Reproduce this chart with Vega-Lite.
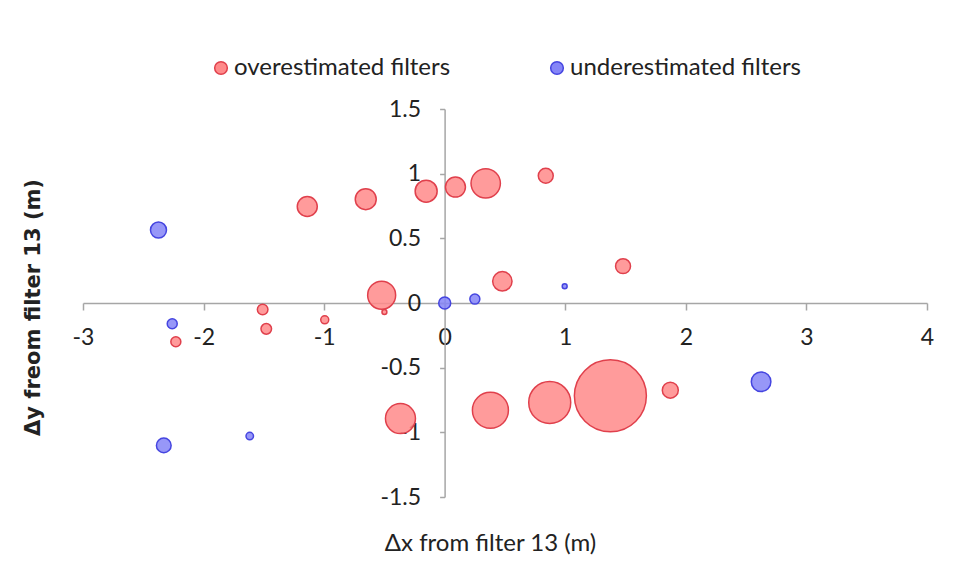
{
  "$schema": "https://vega.github.io/schema/vega-lite/v6.json",
  "width": 844,
  "height": 388,
  "autosize": {"type": "none"},
  "padding": {"left": 83, "top": 109, "right": 52, "bottom": 83},
  "background": "white",
  "config": {"view": {"stroke": null}, "font": "Lato"},
  "data": {
    "values": [
      {"dx": -1.14, "dy": 0.746, "w": 100, "group": "overestimated filters"},
      {"dx": -0.655, "dy": 0.803, "w": 110, "group": "overestimated filters"},
      {"dx": -0.154, "dy": 0.865, "w": 121, "group": "overestimated filters"},
      {"dx": 0.089, "dy": 0.896, "w": 100, "group": "overestimated filters"},
      {"dx": 0.34, "dy": 0.925, "w": 216, "group": "overestimated filters"},
      {"dx": 0.838, "dy": 0.984, "w": 56, "group": "overestimated filters"},
      {"dx": 1.479, "dy": 0.285, "w": 56, "group": "overestimated filters"},
      {"dx": 0.478, "dy": 0.168, "w": 94, "group": "overestimated filters"},
      {"dx": -0.523, "dy": 0.06, "w": 196, "group": "overestimated filters"},
      {"dx": -0.5, "dy": -0.07, "w": 6, "group": "overestimated filters"},
      {"dx": -1.51, "dy": -0.05, "w": 28, "group": "overestimated filters"},
      {"dx": -1.48, "dy": -0.2, "w": 28, "group": "overestimated filters"},
      {"dx": -0.995, "dy": -0.13, "w": 16, "group": "overestimated filters"},
      {"dx": -2.23, "dy": -0.3, "w": 25, "group": "overestimated filters"},
      {"dx": -0.367, "dy": -0.894, "w": 225, "group": "overestimated filters"},
      {"dx": 0.379, "dy": -0.829, "w": 324, "group": "overestimated filters"},
      {"dx": 0.871, "dy": -0.769, "w": 441, "group": "overestimated filters"},
      {"dx": 1.374, "dy": -0.718, "w": 1296, "group": "overestimated filters"},
      {"dx": 1.871, "dy": -0.674, "w": 64, "group": "overestimated filters"},
      {"dx": -2.374, "dy": 0.564, "w": 64, "group": "underestimated filters"},
      {"dx": -2.26, "dy": -0.16, "w": 25, "group": "underestimated filters"},
      {"dx": -2.33, "dy": -1.101, "w": 54, "group": "underestimated filters"},
      {"dx": -1.617, "dy": -1.029, "w": 14, "group": "underestimated filters"},
      {"dx": 0.0, "dy": 0.0, "w": 36, "group": "underestimated filters"},
      {"dx": 0.25, "dy": 0.03, "w": 25, "group": "underestimated filters"},
      {"dx": 0.995, "dy": 0.129, "w": 6, "group": "underestimated filters"},
      {"dx": 2.624, "dy": -0.609, "w": 96, "group": "underestimated filters"}
    ]
  },
  "mark": {"type": "circle", "opacity": 1, "fillOpacity": 0.85, "strokeWidth": 1.5},
  "encoding": {
    "x": {
      "field": "dx",
      "type": "quantitative",
      "scale": {"domain": [-3, 4], "nice": false, "zero": false},
      "axis": {
        "orient": "bottom",
        "offset": -194,
        "values": [-3, -2, -1, 0, 1, 2, 3, 4],
        "grid": false,
        "domainColor": "#a6a6a6",
        "domainWidth": 1.5,
        "tickColor": "#a6a6a6",
        "tickWidth": 1.5,
        "tickSize": 7,
        "labelFontSize": 23,
        "labelColor": "#222222",
        "labelPadding": 16,
        "labelFlush": false,
        "labelOverlap": false,
        "labelExpr": "datum.value + ''",
        "title": "Δx from filter 13 (m)",
        "titleFontSize": 24,
        "titleFontWeight": "normal",
        "titleColor": "#222222",
        "titleAlign": "center",
        "titleBaseline": "middle",
        "titleX": 407,
        "titleY": 240
      }
    },
    "y": {
      "field": "dy",
      "type": "quantitative",
      "scale": {"domain": [-1.5, 1.5], "nice": false, "zero": false},
      "axis": {
        "orient": "left",
        "offset": -361.6,
        "values": [-1.5, -1, -0.5, 0, 0.5, 1, 1.5],
        "grid": false,
        "domainColor": "#a6a6a6",
        "domainWidth": 1.5,
        "tickColor": "#a6a6a6",
        "tickWidth": 1.5,
        "tickSize": 5,
        "labelFontSize": 23,
        "labelColor": "#222222",
        "labelPadding": 19,
        "labelFlush": false,
        "labelOverlap": false,
        "labelExpr": "datum.value + ''",
        "title": "Δy freom filter 13  (m)",
        "titleFont": "DejaVu Sans",
        "titleFontSize": 21,
        "titleFontWeight": 600,
        "titleColor": "#222222",
        "titleAngle": -90,
        "titleAlign": "center",
        "titleBaseline": "middle",
        "titleX": -411,
        "titleY": 198,
        "titleLimit": 400
      }
    },
    "size": {
      "field": "w",
      "type": "quantitative",
      "scale": {"domain": [0, 1300], "range": [0, 5200], "zero": true},
      "legend": null
    },
    "fill": {
      "field": "group",
      "type": "nominal",
      "scale": {"domain": ["overestimated filters", "underestimated filters"], "range": ["#ff8a8a", "#8585f7"]},
      "legend": {
        "orient": "none",
        "legendX": 126,
        "legendY": -53,
        "direction": "horizontal",
        "title": null,
        "labelFontSize": 24,
        "labelLimit": 400,
        "labelColor": "#222222",
        "symbolSize": 160,
        "symbolStrokeWidth": 1.5,
        "symbolOpacity": 1,
        "labelOffset": 1,
        "columnPadding": 94
      }
    },
    "stroke": {
      "field": "group",
      "type": "nominal",
      "scale": {"domain": ["overestimated filters", "underestimated filters"], "range": ["#e0404c", "#4545e0"]}
    }
  }
}
